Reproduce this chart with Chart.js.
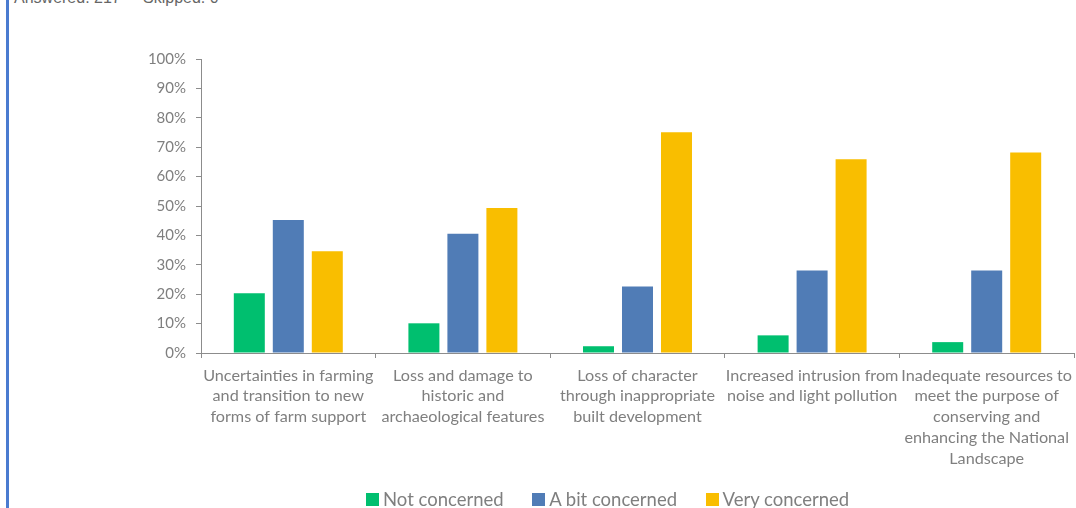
<!DOCTYPE html>
<html>
<head>
<meta charset="utf-8">
<script src="https://cdn.jsdelivr.net/npm/chart.js@4.4.1/dist/chart.umd.min.js"></script>
<style>
  html, body { margin: 0; padding: 0; background: #fff; overflow: hidden; }
  #wrap { position: relative; width: 1076px; height: 508px; overflow: hidden; }
  #edge { position: absolute; left: 6px; top: 0; width: 3px; height: 508px; background: #4a7bd0; }
  .meta { position: absolute; top: -10px; font: 16px "Liberation Sans", Arial, sans-serif; line-height: 16px; color: #666; white-space: nowrap; }
  canvas { position: absolute; left: 0; top: 0; }
  #legend { position: absolute; left: 366px; top: 488px; display: flex; gap: 28.5px; font: 18.5px Lato, sans-serif; line-height: 22px; color: #7f7f7f; white-space: nowrap; }
  #legend .item { display: flex; align-items: center; }
  #legend .box { width: 13px; height: 13px; margin-right: 4px; }
</style>
</head>
<body>
<div id="wrap">
  <div id="edge"></div>
  <div class="meta" style="left:14px">Answered: 217</div>
  <div class="meta" style="left:143px">Skipped: 0</div>
  <canvas id="c" width="1076" height="508"></canvas>
  <div id="legend"></div>
</div>
<script>
// Survey question: level of concern about each issue (% of 217 respondents)
const categories = [
  ["Uncertainties in farming", "and transition to new", "forms of farm support"],
  ["Loss and damage to", "historic and", "archaeological features"],
  ["Loss of character", "through inappropriate", "built development"],
  ["Increased intrusion from", "noise and light pollution"],
  ["Inadequate resources to", "meet the purpose of", "conserving and", "enhancing the National", "Landscape"]
];
const seriesNames = ["Not concerned", "A bit concerned", "Very concerned"];
const notConcerned   = [20.3, 10.1, 2.3, 6.0, 3.7];
const aBitConcerned  = [45.2, 40.6, 22.6, 28.1, 28.1];
const veryConcerned  = [34.6, 49.3, 75.1, 65.9, 68.2];
const seriesColors = ["#00bf6f", "#507cb6", "#f9be00"];
const yTicks = [0, 10, 20, 30, 40, 50, 60, 70, 80, 90, 100];

const axisGray = "#8c8c8c";
const textGray = "#7f7f7f";
const values = [notConcerned, aBitConcerned, veryConcerned];

const datasets = seriesNames.map((name, i) => ({
  label: name,
  data: values[i],
  backgroundColor: seriesColors[i],
  borderWidth: 0,
  categoryPercentage: 0.67,
  barPercentage: 0.795
}));

new Chart(document.getElementById("c"), {
  type: "bar",
  data: { labels: categories, datasets },
  options: {
    responsive: false,
    animation: false,
    layout: { padding: { top: 59, right: 2, left: 0, bottom: 0 } },
    plugins: { legend: { display: false }, tooltip: { enabled: false } },
    scales: {
      x: {
        grid: { display: true, drawOnChartArea: false, drawTicks: true, tickLength: 5, color: axisGray, lineWidth: 1, offset: true },
        border: { display: true, color: axisGray, width: 1 },
        ticks: { color: textGray, font: { family: "Lato", size: 16.2, lineHeight: 1.28 }, padding: 7, maxRotation: 0, autoSkip: false },
        afterFit: s => { s.height = 155; s.paddingLeft = 0; s.paddingRight = 0; }
      },
      y: {
        min: 0, max: 100,
        afterBuildTicks: s => { s.ticks = yTicks.map(v => ({ value: v })); },
        grid: { display: true, drawOnChartArea: false, drawTicks: true, tickLength: 5, color: axisGray, lineWidth: 1 },
        border: { display: true, color: axisGray, width: 1 },
        ticks: { color: textGray, font: { family: "Lato", size: 15 }, padding: 10, callback: v => v + "%" },
        afterFit: s => { s.width = 201; }
      }
    }
  }
});

// Legend row built from the same series names and colours
const legend = document.getElementById("legend");
seriesNames.forEach((name, i) => {
  const item = document.createElement("div");
  item.className = "item";
  const box = document.createElement("span");
  box.className = "box";
  box.style.background = seriesColors[i];
  const txt = document.createElement("span");
  txt.textContent = name;
  item.appendChild(box);
  item.appendChild(txt);
  legend.appendChild(item);
});
</script>
</body>
</html>
